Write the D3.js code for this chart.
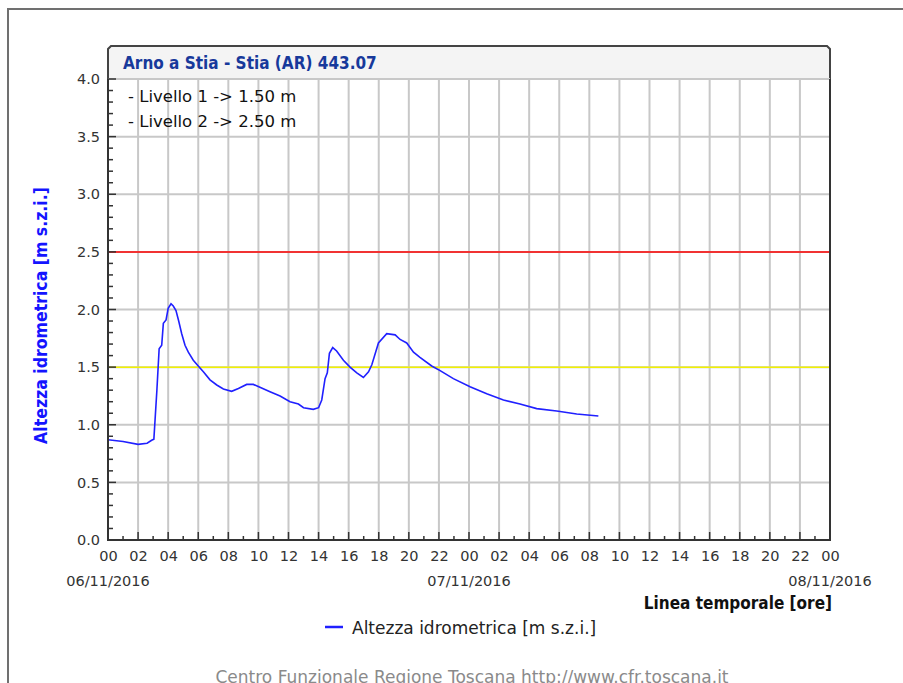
<!DOCTYPE html>
<html>
<head>
<meta charset="utf-8">
<script src="https://cdn.jsdelivr.net/npm/d3@7"></script>
<style>
  body { margin: 0; background: #fff; }
  text { font-family: "DejaVu Sans", sans-serif; }
</style>
</head>
<body>
<div id="chart"></div>
<script>
var W = 903, H = 683;
var margin = {top: 79, left: 108, right: 73, bottom: 143},
    width = W - margin.left - margin.right,
    height = H - margin.top - margin.bottom;

var title = "Arno a Stia - Stia (AR) 443.07";
var thresholds = [1.5, 2.5];
var thresholdColors = ["#f2f200", "#ff0000"];
var thresholdNotes = ["- Livello 1 -> 1.50 m", "- Livello 2 -> 2.50 m"];
var dayLabels = ["06/11/2016", "07/11/2016", "08/11/2016"];

// hours since 06/11/2016 00:00 and measured level (m)
var hours = [0, 1, 2, 2.6, 2.9, 3.05, 3.25, 3.4, 3.57, 3.68, 3.86, 4.0, 4.19, 4.34, 4.52, 4.7,
  4.9, 5.12, 5.34, 5.67, 6.0, 6.34, 6.78, 7.23, 7.67, 8.22, 8.67, 9.22, 9.66, 10.1, 10.77,
  11.44, 12.1, 12.66, 13.0, 13.65, 14.0, 14.21, 14.43, 14.58, 14.72, 14.94, 15.2, 15.65,
  16.09, 16.54, 16.98, 17.32, 17.54, 17.98, 18.53, 19.09, 19.42, 19.86, 20.31, 20.74,
  21.52, 22.08, 22.96, 24.07, 25.18, 26.29, 27.39, 28.5, 29.83, 31.16, 32.6];
var levels = [0.87, 0.855, 0.83, 0.84, 0.865, 0.875, 1.30, 1.66, 1.69, 1.88, 1.91, 2.01, 2.05,
  2.03, 1.99, 1.90, 1.79, 1.69, 1.63, 1.56, 1.51, 1.46, 1.39, 1.345, 1.31, 1.29, 1.315,
  1.35, 1.35, 1.325, 1.287, 1.25, 1.20, 1.18, 1.148, 1.134, 1.148, 1.215, 1.40, 1.45,
  1.62, 1.67, 1.64, 1.56, 1.50, 1.45, 1.41, 1.46, 1.52, 1.71, 1.79, 1.78, 1.74, 1.71,
  1.63, 1.585, 1.51, 1.47, 1.40, 1.33, 1.27, 1.215, 1.18, 1.14, 1.12, 1.093, 1.076];

var t0 = new Date(2016, 10, 6, 0, 0);
var t1 = new Date(2016, 10, 8, 0, 0);
var data = hours.map(function(h, i) {
  return {t: new Date(t0.getTime() + h * 3600000), v: levels[i]};
});

var x = d3.scaleTime().domain([t0, t1]).range([0, width]);
var y = d3.scaleLinear().domain([0, 4]).range([height, 0]);

var svg = d3.select("#chart").append("svg")
    .attr("width", W).attr("height", H);

// outer frame
svg.append("path")
    .attr("d", "M8,683 L8,9 L903,9")
    .attr("fill", "none").attr("stroke", "#707070").attr("stroke-width", 2);

var g = svg.append("g")
    .attr("transform", "translate(" + margin.left + "," + margin.top + ")");

// title box with clipped top corners
g.append("path")
    .attr("d", "M0,0 L0,-30 L3,-33 L" + (width - 3) + ",-33 L" + width + ",-30 L" + width + ",0 Z")
    .attr("fill", "#f4f4f4").attr("stroke", "#444").attr("stroke-width", 2);
g.append("text")
    .attr("x", 15).attr("y", -10)
    .style("font-family", "'DejaVu Sans Condensed', sans-serif")
    .style("font-weight", "bold").style("font-size", "17px")
    .attr("fill", "#17399b")
    .text(title);

// grid
var hourTicks = d3.timeHour.every(2).range(t0, new Date(t1.getTime() + 1));
g.append("g").selectAll("line").data(hourTicks).enter().append("line")
    .attr("x1", function(d) { return x(d); }).attr("x2", function(d) { return x(d); })
    .attr("y1", 0).attr("y2", height)
    .attr("stroke", "#c8c8c8").attr("stroke-width", 2);
g.append("g").selectAll("line").data(y.ticks(8)).enter().append("line")
    .attr("x1", 0).attr("x2", width)
    .attr("y1", function(d) { return y(d); }).attr("y2", function(d) { return y(d); })
    .attr("stroke", "#c8c8c8").attr("stroke-width", 2);

// threshold lines
g.append("g").selectAll("line").data(thresholds).enter().append("line")
    .attr("x1", 0).attr("x2", width)
    .attr("y1", function(d) { return y(d); }).attr("y2", function(d) { return y(d); })
    .attr("stroke", function(d, i) { return thresholdColors[i]; })
    .attr("stroke-width", 1.5);

// threshold notes
g.append("g").selectAll("text").data(thresholdNotes).enter().append("text")
    .attr("x", 20).attr("y", function(d, i) { return 23 + i * 25; })
    .style("font-size", "16.5px").attr("fill", "#111")
    .text(function(d) { return d; });

// data line
var line = d3.line()
    .x(function(d) { return x(d.t); })
    .y(function(d) { return y(d.v); });
g.append("path").datum(data)
    .attr("d", line)
    .attr("fill", "none").attr("stroke", "#2020ff").attr("stroke-width", 1.6);

// y axis
var yAxis = d3.axisLeft(y).tickValues(y.ticks(8)).tickFormat(d3.format(".1f")).tickSize(0).tickPadding(8);
var ya = g.append("g").call(yAxis);
ya.select(".domain").remove();
ya.selectAll("text").style("font-size", "14.5px").attr("fill", "#333")
    .style("font-family", "'DejaVu Sans', sans-serif");
var yMinor = d3.range(0, 4.001, 0.1);
g.append("g").selectAll("line").data(yMinor).enter().append("line")
    .attr("x1", 0).attr("x2", function(d, i) { return i % 5 === 0 ? 8 : 5; })
    .attr("y1", function(d) { return y(d); }).attr("y2", function(d) { return y(d); })
    .attr("stroke", "#333").attr("stroke-width", 1.5);

// x axis
var xAxis = d3.axisBottom(x).tickValues(hourTicks).tickFormat(d3.timeFormat("%H")).tickSize(0).tickPadding(11);
var xa = g.append("g").attr("transform", "translate(0," + height + ")").call(xAxis);
xa.select(".domain").remove();
xa.selectAll("text").style("font-size", "14.5px").attr("fill", "#333")
    .style("font-family", "'DejaVu Sans', sans-serif");
var xMinor = d3.timeHour.every(1).range(t0, new Date(t1.getTime() + 1));
g.append("g").selectAll("line").data(xMinor).enter().append("line")
    .attr("x1", function(d) { return x(d); }).attr("x2", function(d) { return x(d); })
    .attr("y1", height).attr("y2", function(d, i) { return height - (i % 2 === 0 ? 8 : 4); })
    .attr("stroke", "#333").attr("stroke-width", 1.5);

// date labels under midnight ticks
var days = d3.timeDay.range(t0, new Date(t1.getTime() + 1));
g.append("g").selectAll("text").data(days).enter().append("text")
    .attr("x", function(d) { return x(d); }).attr("y", height + 46)
    .attr("text-anchor", "middle")
    .style("font-size", "14.5px").attr("fill", "#333")
    .text(function(d, i) { return dayLabels[i]; });

// plot frame: left, bottom, right
g.append("path")
    .attr("d", "M0,0 L0," + height + " L" + width + "," + height + " L" + width + ",0")
    .attr("fill", "none").attr("stroke", "#333").attr("stroke-width", 2);

// axis titles
g.append("text")
    .attr("transform", "translate(-61," + (height / 2 + 6) + ") rotate(-90)")
    .attr("text-anchor", "middle")
    .style("font-family", "'DejaVu Sans Condensed', sans-serif")
    .style("font-weight", "bold").style("font-size", "17.5px")
    .attr("fill", "#1414ff")
    .text("Altezza idrometrica [m s.z.i.]");
g.append("text")
    .attr("x", width + 2).attr("y", height + 69)
    .attr("text-anchor", "end")
    .style("font-family", "'DejaVu Sans Condensed', sans-serif")
    .style("font-weight", "bold").style("font-size", "17px")
    .attr("fill", "#111")
    .text("Linea temporale [ore]");

// legend
svg.append("line")
    .attr("x1", 325).attr("x2", 343).attr("y1", 627).attr("y2", 627)
    .attr("stroke", "#2020ff").attr("stroke-width", 2.5);
svg.append("text")
    .attr("x", 352).attr("y", 634)
    .style("font-size", "17px").attr("fill", "#222")
    .text("Altezza idrometrica [m s.z.i.]");

// footer
svg.append("text")
    .attr("x", 472).attr("y", 683)
    .attr("text-anchor", "middle")
    .style("font-size", "17px").attr("fill", "#8a8a8a")
    .text("Centro Funzionale Regione Toscana http://www.cfr.toscana.it");
</script>
</body>
</html>
